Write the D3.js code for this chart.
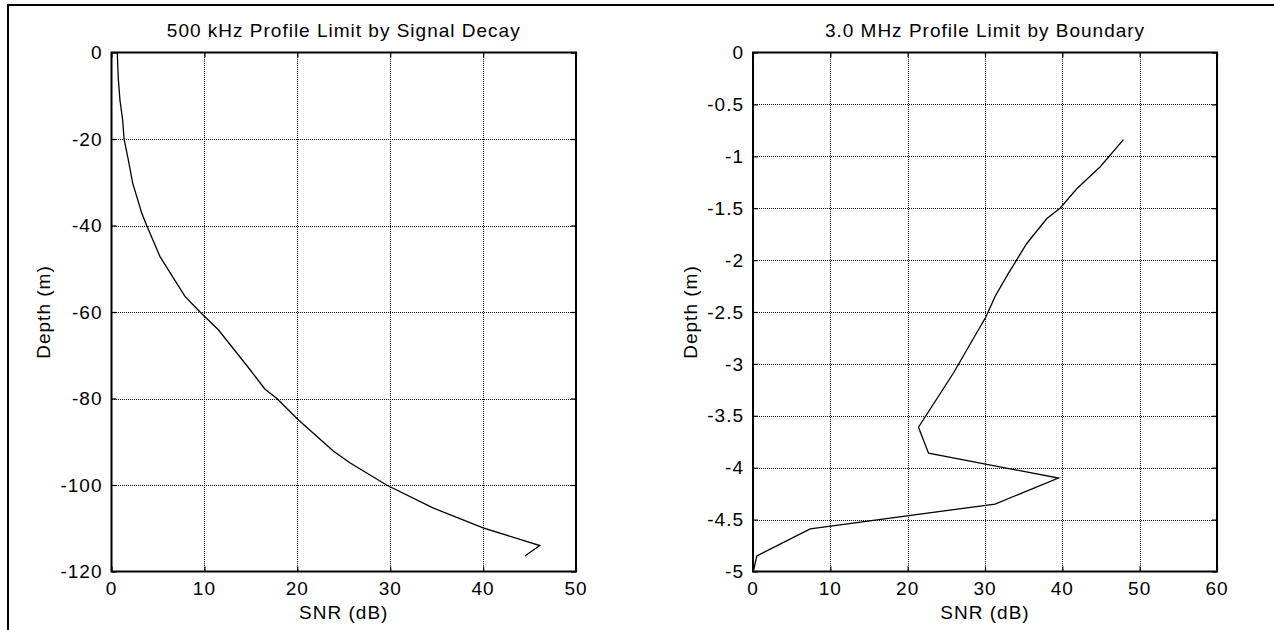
<!DOCTYPE html>
<html><head><meta charset="utf-8">
<script src="https://cdn.jsdelivr.net/npm/d3@7"></script>
<style>
html,body{margin:0;padding:0;background:#fff;}
svg{display:block;}
text{font-family:"Liberation Sans",Arial,sans-serif;fill:#000;}
</style></head>
<body>
<svg id="chart" width="1274" height="630"></svg>
<script>
// ---- data ----
const leftTitle = "500 kHz Profile Limit by Signal Decay";
const leftDepth = [0, -6, -11, -15.6, -20, -24.8, -30.2, -37.1, -40, -47.2, -56.4, -60, -64.1, -73.3, -77.8, -80, -84.9, -92.2, -94.9, -100, -105.3, -109.9, -114, -116.4];
const leftSNR   = [0.62, 0.73, 0.91, 1.2, 1.35, 1.81, 2.28, 3.25, 3.79, 5.22, 7.91, 9.53, 11.5, 14.9, 16.5, 17.8, 20.1, 23.9, 25.7, 29.6, 34.6, 40.0, 46.1, 44.5];
const leftXTicks = [0, 10, 20, 30, 40, 50];
const leftYTicks = [0, -20, -40, -60, -80, -100, -120];

const rightTitle = "3.0 MHz Profile Limit by Boundary";
const rightDepth = [-0.84, -1.10, -1.31, -1.50, -1.60, -1.84, -2.13, -2.35, -2.55, -2.64, -3.09, -3.61, -3.86, -4.10, -4.35, -4.59, -4.85, -5.0];
const rightSNR   = [47.9, 44.9, 41.9, 39.7, 38.0, 35.4, 33.0, 31.3, 30.1, 29.4, 25.9, 21.4, 22.7, 39.5, 31.3, 7.4, 0.5, 0.04];
const rightXTicks = [0, 10, 20, 30, 40, 50, 60];
const rightYTicks = [0, -0.5, -1, -1.5, -2, -2.5, -3, -3.5, -4, -4.5, -5];

const xLabel = "SNR (dB)";
const yLabel = "Depth (m)";

// ---- drawing ----
const svg = d3.select("#chart");
const FS = 19, LS = 1;
const px = v => Math.round(v) + 0.5;

// outer frame
svg.append("path").attr("d","M8,640 L8,5 L1290,5")
  .attr("fill","none").attr("stroke","#000").attr("stroke-width",2);

function panel(o){
  const x = d3.scaleLinear().domain(o.xDomain).range([o.left, o.left + o.w]);
  const y = d3.scaleLinear().domain(o.yDomain).range([o.top + o.h, o.top]);
  const g = svg.append("g");
  const T = 5;
  // grid
  g.selectAll(".gx").data(o.xTicks.slice(1,-1)).join("line")
    .attr("x1",d=>px(x(d))).attr("x2",d=>px(x(d))).attr("y1",o.top).attr("y2",o.top+o.h)
    .attr("stroke","#000").attr("stroke-width",1).attr("stroke-dasharray","1,1")
    .attr("shape-rendering","crispEdges");
  g.selectAll(".gy").data(o.yTicks.slice(1,-1)).join("line")
    .attr("y1",d=>px(y(d))).attr("y2",d=>px(y(d))).attr("x1",o.left).attr("x2",o.left+o.w)
    .attr("stroke","#000").attr("stroke-width",1).attr("stroke-dasharray","1,1")
    .attr("shape-rendering","crispEdges");
  // ticks (inside, all four sides)
  const xAxB = d3.axisBottom(x).tickValues(o.xTicks).tickSizeInner(-T).tickSizeOuter(0).tickFormat("");
  const xAxT = d3.axisTop(x).tickValues(o.xTicks).tickSizeInner(-T).tickSizeOuter(0).tickFormat("");
  const yAxL = d3.axisLeft(y).tickValues(o.yTicks).tickSizeInner(-T).tickSizeOuter(0).tickFormat("");
  const yAxR = d3.axisRight(y).tickValues(o.yTicks).tickSizeInner(-T).tickSizeOuter(0).tickFormat("");
  [[xAxB,`translate(0,${o.top+o.h})`],[xAxT,`translate(0,${o.top})`],
   [yAxL,`translate(${o.left},0)`],[yAxR,`translate(${o.left+o.w},0)`]].forEach(([ax,tr])=>{
    const a = g.append("g").attr("transform",tr).call(ax);
    a.select(".domain").remove();
    a.selectAll("line").attr("stroke","#000").attr("stroke-width",1.2);
  });
  // box
  g.append("rect").attr("x",o.left).attr("y",o.top).attr("width",o.w).attr("height",o.h)
    .attr("fill","none").attr("stroke","#000").attr("stroke-width",2);
  // tick labels
  g.selectAll(".xl").data(o.xTicks).join("text")
    .attr("x",d=>x(d)).attr("y",o.top+o.h+23).attr("text-anchor","middle")
    .style("font-size",FS+"px").style("letter-spacing",LS+"px").text(d=>d);
  g.selectAll(".yl").data(o.yTicks).join("text")
    .attr("x",o.left-9).attr("y",d=>y(d)).attr("dy","0.35em").attr("text-anchor","end")
    .style("font-size",FS+"px").style("letter-spacing",LS+"px").text(d=>d);
  // labels
  g.append("text").attr("x",o.left+o.w/2).attr("y",619).attr("text-anchor","middle")
    .style("font-size",FS+"px").style("letter-spacing",LS+"px").text(xLabel);
  g.append("text").attr("transform",`translate(${o.ylabX},${o.top+o.h/2}) rotate(-90)`)
    .attr("dy","0.35em").attr("text-anchor","middle")
    .style("font-size",FS+"px").style("letter-spacing",LS+"px").text(yLabel);
  g.append("text").attr("x",o.left+o.w/2).attr("y",37).attr("text-anchor","middle")
    .style("font-size",FS+"px").style("letter-spacing",LS+"px").text(o.title);
  // curve
  const pts = o.snr.map((v,i)=>[v,o.depth[i]]);
  g.append("path").datum(pts)
    .attr("d", d3.line().x(d=>x(d[0])).y(d=>y(d[1])))
    .attr("fill","none").attr("stroke","#000").attr("stroke-width",1.3);
}

panel({left:111.5, top:52.5, w:464.5, h:519, xDomain:[0,50], yDomain:[-120,0],
  xTicks:leftXTicks, yTicks:leftYTicks, snr:leftSNR, depth:leftDepth, title:leftTitle, ylabX:43});
panel({left:753, top:52.5, w:464, h:519, xDomain:[0,60], yDomain:[-5,0],
  xTicks:rightXTicks, yTicks:rightYTicks, snr:rightSNR, depth:rightDepth, title:rightTitle, ylabX:690});
</script>
</body></html>
